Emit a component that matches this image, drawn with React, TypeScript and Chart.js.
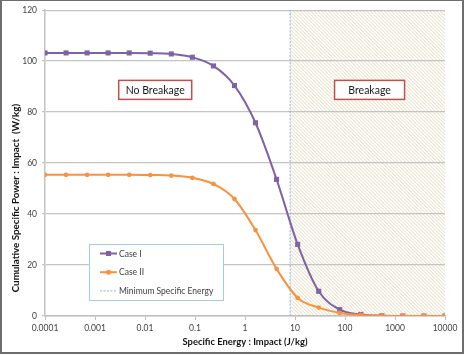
import React, { useEffect, useRef } from 'react';
import { Chart, registerables } from 'chart.js';

Chart.register(...registerables);

// ---- data ----
const energy = [0.0001, 0.000264, 0.000695, 0.00183, 0.00483, 0.0127, 0.0336, 0.0886, 0.234, 0.616, 1.62, 4.28, 11.3, 29.8, 78.5, 207, 546, 1438, 3793, 10000];
const caseI = [103.2, 103.2, 103.2, 103.2, 103.2, 103.1, 102.8, 101.5, 98.1, 90.4, 75.8, 53.6, 28.1, 9.7, 2.5, 0.6, 0.1, 0, 0, 0];
const caseII = [55.4, 55.4, 55.4, 55.4, 55.4, 55.3, 55.1, 54.2, 51.8, 45.9, 33.7, 18.5, 7.1, 3.3, 1.2, 0.4, 0.1, 0, 0, 0];
const minSpecificEnergy = 8;
const xTickValues = [0.0001, 0.001, 0.01, 0.1, 1, 10, 100, 1000, 10000];
const yTickValues = [0, 20, 40, 60, 80, 100, 120];
const seriesNames = ['Case I', 'Case II', 'Minimum Specific Energy'];
const xTitle = 'Specific Energy : Impact (J/kg)';
const yTitle = 'Cumulative Specific Power : Impact  (W/kg)';
const noBreakageLabel = { text: 'No Breakage', x: 0.016, y: 88.7 };
const breakageLabel = { text: 'Breakage', x: 310, y: 88.7 };

const PURPLE = '#7f62a6';
const ORANGE = '#f7923f';
const DASH = '#8db4e2';
const FONT = 'Lato, "DejaVu Sans", sans-serif';

const decorPlugin = {
  id: 'decor',
  beforeDraw(chart: any) {
    const { ctx, chartArea: ca, scales } = chart;
    const x0 = scales.x.getPixelForValue(minSpecificEnergy);
    const h = ca.bottom - ca.top;
    ctx.save();
    ctx.beginPath();
    ctx.rect(x0, ca.top, ca.right - x0, h);
    ctx.clip();
    ctx.fillStyle = '#fdfcf8';
    ctx.fillRect(x0, ca.top, ca.right - x0, h);
    ctx.beginPath();
    ctx.strokeStyle = '#e4dfcb';
    ctx.lineWidth = 1;
    for (let d = -h; d < ca.right - x0 + 4; d += 3.5) {
      ctx.moveTo(x0 + d, ca.top);
      ctx.lineTo(x0 + d + h, ca.bottom);
    }
    ctx.stroke();
    ctx.restore();
  },
  afterDraw(chart: any) {
    const { ctx, chartArea: ca, scales } = chart;
    ctx.save();
    // annotation boxes
    const drawBox = (lab: { text: string; x: number; y: number }) => {
      ctx.font = `10.5px ${FONT}`;
      const cx = scales.x.getPixelForValue(lab.x);
      const cy = scales.y.getPixelForValue(lab.y);
      const w = ctx.measureText(lab.text).width;
      const bw = Math.max(w + 14, 70);
      const bh = 19;
      ctx.fillStyle = '#fff';
      ctx.fillRect(cx - bw / 2, cy - bh / 2, bw, bh);
      ctx.strokeStyle = '#c0504d';
      ctx.lineWidth = 1.5;
      ctx.strokeRect(cx - bw / 2, cy - bh / 2, bw, bh);
      ctx.fillStyle = '#1a1a1a';
      ctx.textAlign = 'center';
      ctx.textBaseline = 'middle';
      ctx.fillText(lab.text, cx, cy + 0.5);
    };
    drawBox(noBreakageLabel);
    drawBox(breakageLabel);

    // legend
    const lx = ca.left + 44;
    const ly = 244;
    const lw = 134;
    const lh = 56;
    ctx.fillStyle = '#fff';
    ctx.fillRect(lx, ly, lw, lh);
    ctx.strokeStyle = '#9fd0dc';
    ctx.lineWidth = 1;
    ctx.strokeRect(lx + 0.5, ly + 0.5, lw, lh);
    const rows = [
      { name: seriesNames[0], color: PURPLE, marker: 'rect', dash: false },
      { name: seriesNames[1], color: ORANGE, marker: 'circle', dash: false },
      { name: seriesNames[2], color: DASH, marker: '', dash: true },
    ];
    rows.forEach((r, i) => {
      const y = ly + 9.5 + i * 18.7;
      const sx = lx + 11;
      const ex = lx + 28;
      ctx.beginPath();
      ctx.strokeStyle = r.color;
      ctx.lineWidth = r.dash ? 1 : 2;
      ctx.setLineDash(r.dash ? [2, 1.5] : []);
      ctx.moveTo(sx, y);
      ctx.lineTo(ex, y);
      ctx.stroke();
      ctx.setLineDash([]);
      ctx.fillStyle = r.color;
      const mx = (sx + ex) / 2;
      if (r.marker === 'rect') ctx.fillRect(mx - 2.5, y - 2.5, 5, 5);
      if (r.marker === 'circle') {
        ctx.beginPath();
        ctx.arc(mx, y, 2.5, 0, Math.PI * 2);
        ctx.fill();
      }
      ctx.fillStyle = '#404040';
      ctx.font = `8.5px ${FONT}`;
      ctx.textAlign = 'left';
      ctx.textBaseline = 'middle';
      ctx.fillText(r.name, ex + 2, y + 0.5);
    });

    // axis titles
    ctx.fillStyle = '#111';
    ctx.textAlign = 'center';
    ctx.textBaseline = 'middle';
    ctx.font = `bold 9.4px ${FONT}`;
    ctx.fillText(xTitle, (ca.left + ca.right) / 2, ca.bottom + 26);
    ctx.font = `bold 9.8px ${FONT}`;
    ctx.translate(16, ca.top + 188);
    ctx.rotate(-Math.PI / 2);
    ctx.fillText(yTitle, 0, 0);
    ctx.restore();
  },
};

export default function App() {
  const canvasRef = useRef<HTMLCanvasElement | null>(null);

  useEffect(() => {
    document.body.style.margin = '0';
    const canvas = canvasRef.current;
    if (!canvas) return;
    const chart = new Chart(canvas, {
      type: 'line',
      data: {
        datasets: [
          {
            label: seriesNames[1],
            data: energy.map((e, i) => ({ x: e, y: caseII[i] })),
            borderColor: ORANGE,
            backgroundColor: ORANGE,
            borderWidth: 2,
            pointStyle: 'circle',
            pointRadius: 2.4,
            pointBorderWidth: 0,
            cubicInterpolationMode: 'monotone',
            order: 0,
          },
          {
            label: seriesNames[0],
            data: energy.map((e, i) => ({ x: e, y: caseI[i] })),
            borderColor: PURPLE,
            backgroundColor: PURPLE,
            borderWidth: 2,
            pointStyle: 'rect',
            pointRadius: 3.6,
            pointBorderWidth: 0,
            cubicInterpolationMode: 'monotone',
            order: 1,
          },
          {
            label: seriesNames[2],
            data: [
              { x: minSpecificEnergy, y: yTickValues[0] },
              { x: minSpecificEnergy, y: yTickValues[yTickValues.length - 1] },
            ],
            borderColor: DASH,
            borderWidth: 1,
            borderDash: [2, 1.5],
            pointRadius: 0,
            order: 2,
          },
        ],
      },
      options: {
        responsive: false,
        animation: false,
        devicePixelRatio: 1,
        layout: { padding: { left: 0, top: 10, right: 20, bottom: 0 } },
        plugins: { legend: { display: false }, tooltip: { enabled: false } },
        scales: {
          x: {
            type: 'logarithmic',
            min: xTickValues[0],
            max: xTickValues[xTickValues.length - 1],
            afterBuildTicks: (s: any) => {
              s.ticks = xTickValues.map((v) => ({ value: v }));
            },
            afterFit: (s: any) => {
              s.height = 40;
            },
            ticks: {
              autoSkip: false,
              maxRotation: 0,
              padding: 3,
              color: '#404040',
              font: { family: FONT, size: 8.5 },
              callback: (v: any) => String(v),
            },
            grid: { drawOnChartArea: false, tickLength: 4, color: '#bfbfbf' },
            border: { color: '#bfbfbf', width: 1.5 },
          },
          y: {
            type: 'linear',
            min: yTickValues[0],
            max: yTickValues[yTickValues.length - 1],
            afterBuildTicks: (s: any) => {
              s.ticks = yTickValues.map((v) => ({ value: v }));
            },
            afterFit: (s: any) => {
              s.width = 45;
            },
            ticks: {
              padding: 5,
              color: '#404040',
              font: { family: FONT, size: 8.5 },
            },
            grid: { color: '#c4c4c4', lineWidth: 1.2, tickLength: 3 },
            border: { color: '#c4c4c4', width: 1.5 },
          },
        },
      },
      plugins: [decorPlugin],
    } as any);
    return () => chart.destroy();
  }, []);

  return (
    <div style={{ position: 'relative', width: 465, height: 356, background: '#fff' }}>
      <canvas ref={canvasRef} width={465} height={356} style={{ display: 'block' }} />
      <div
        style={{
          position: 'absolute',
          left: 0,
          top: 0,
          width: 464,
          height: 354,
          boxSizing: 'border-box',
          borderStyle: 'solid',
          borderColor: '#6e6e6e',
          borderWidth: '1px 2px 2px 2px',
          pointerEvents: 'none',
        }}
      />
    </div>
  );
}
